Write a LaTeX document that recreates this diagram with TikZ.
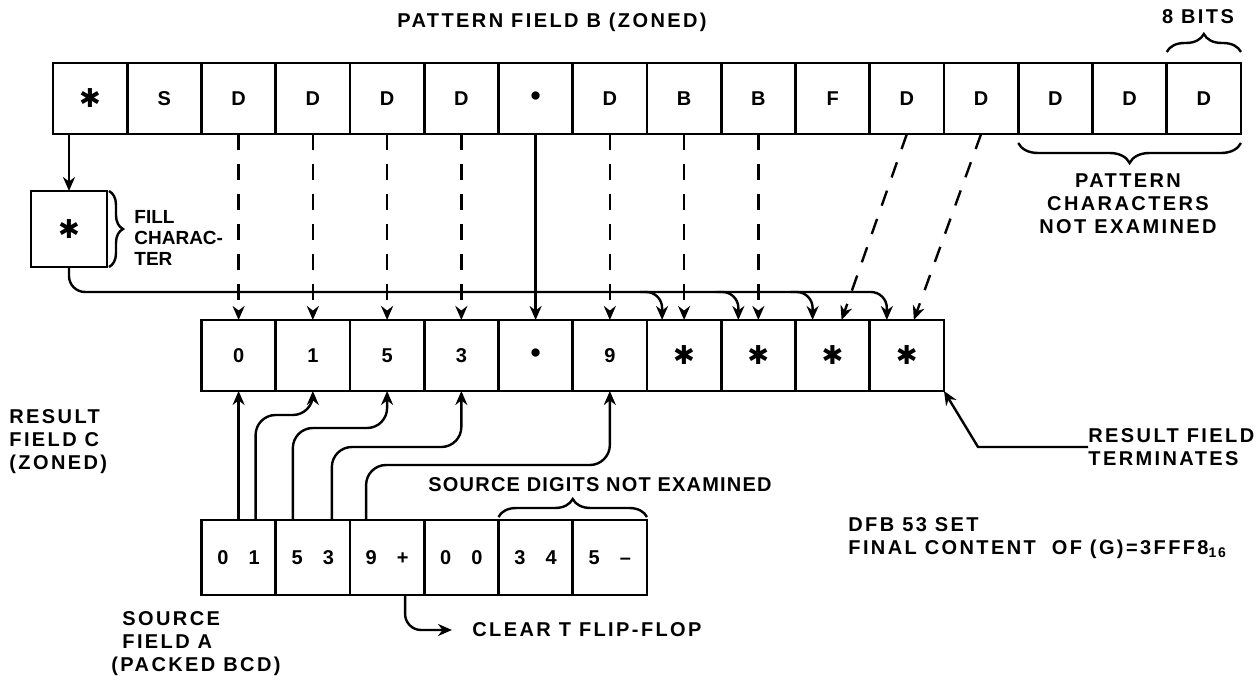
\documentclass[tikz,border=0pt]{standalone}
\usepackage{fontspec}
\setmainfont{Liberation Sans}[LetterSpace=12]
\newfontfamily\symfont{DejaVu Sans}
\newfontfamily\tightfont{Liberation Sans}
\usetikzlibrary{positioning,calc,arrows.meta,decorations.pathreplacing}

\newcommand{\filler}{{\symfont\fontsize{13}{13}\selectfont ✱}}

\begin{document}
\begin{tikzpicture}[x=0.5pt, y=-0.5pt, font=\fontsize{10}{11.5}\selectfont\bfseries, node distance=0pt,
	cell/.style={draw, line width=1.3pt, minimum width=37.125pt, minimum height=35.5pt, inner sep=0pt, outer sep=0pt},
	src/.style={cell, minimum height=37.5pt},
	lbl/.style={align=left, inner sep=0pt},
	wire/.style={line width=1.2pt},
	dashwire/.style={wire, dash pattern=on 8pt off 7pt},
	brc/.style={decorate, decoration={brace, amplitude=#1}, line width=1.2pt},
	>={Stealth[length=7pt, width=6pt]}]
	\useasboundingbox (0,0) rectangle (1258,683);
	% pattern field B
	\node[cell] (b1) at (90.1,98.5) {\filler};
	\node[cell, right=of b1] (b2) {S};
	\node[cell, right=of b2] (b3) {D};
	\node[cell, right=of b3] (b4) {D};
	\node[cell, right=of b4] (b5) {D};
	\node[cell, right=of b5] (b6) {D};
	\node[cell, right=of b6] (b7) {\Large\textbullet};
	\node[cell, right=of b7] (b8) {D};
	\node[cell, right=of b8] (b9) {B};
	\node[cell, right=of b9] (b10) {B};
	\node[cell, right=of b10] (b11) {F};
	\node[cell, right=of b11] (b12) {D};
	\node[cell, right=of b12] (b13) {D};
	\node[cell, right=of b13] (b14) {D};
	\node[cell, right=of b14] (b15) {D};
	\node[cell, right=of b15] (b16) {D};
	% result field C
	\node[cell, below=93pt of b3] (c1) {0};
	\node[cell, right=of c1] (c2) {1};
	\node[cell, right=of c2] (c3) {5};
	\node[cell, right=of c3] (c4) {3};
	\node[cell, right=of c4] (c5) {\Large\textbullet};
	\node[cell, right=of c5] (c6) {9};
	\node[cell, right=of c6] (c7) {\filler};
	\node[cell, right=of c7] (c8) {\filler};
	\node[cell, right=of c8] (c9) {\filler};
	\node[cell, right=of c9] (c10) {\filler};
	% source field A
	\node[src, below=64.5pt of c1] (a1) {0\quad 1};
	\node[src, right=of a1] (a2) {5\quad 3};
	\node[src, right=of a2] (a3) {9\quad +};
	\node[src, right=of a3] (a4) {0\quad 0};
	\node[src, right=of a4] (a5) {3\quad 4};
	\node[src, right=of a5] (a6) {5\quad --};
	% fill character
	\node[cell, minimum width=38pt, minimum height=38pt] (Fc) at (69,229) {\filler};
	\draw[brc=7pt] ([xshift=1pt]Fc.north east) -- ([xshift=1pt]Fc.south east);
	\node[lbl, anchor=west, font=\tightfont\fontsize{9.5}{10.5}\selectfont\bfseries] (fch) at (134,238) {FILL\\CHARAC-\\TER};
	% labels
	\node (ttl) at (552,22) {PATTERN FIELD B (ZONED)};
	\node (bits) at (1198,17) {8 BITS};
	\draw[brc=9pt] ([yshift=5.5pt]b16.north west) -- ([yshift=5.5pt]b16.north east);
	\draw[brc=10pt] ([yshift=-4.5pt]b16.south east) -- ([yshift=-4.5pt]b14.south west);
	\node[align=center, inner sep=0pt] (pcne) at (1128,204) {PATTERN\\CHARACTERS\\NOT EXAMINED};
	\node[lbl, anchor=west] (rfc) at (9,442) {RESULT\\FIELD C\\(ZONED)};
	\node[lbl, anchor=west] (sfa) at (111,644) {\hspace*{5.5pt}SOURCE\\\hspace*{5.5pt}FIELD A\\(PACKED BCD)};
	\node (sdne) at (600,485) {\addfontfeatures{LetterSpace=6}SOURCE DIGITS NOT EXAMINED};
	\draw[brc=9pt] ([yshift=1.5pt]a5.north west) -- ([yshift=1.5pt]a6.north east);
	\node[lbl, anchor=west] (clr) at (472,630) {CLEAR T FLIP-FLOP};
	\node[lbl, anchor=west] (rft) at (1088,447) {RESULT FIELD\\TERMINATES};
	\node[lbl, anchor=west] (dfb) at (848,538) {DFB 53 SET\\FINAL CONTENT\ \ OF (G)=3FFF8\textsubscript{16}};
	% pattern to result
	\draw[->, wire] (b1.south -| Fc.north) -- (Fc.north);
	\draw[->, dashwire] (b3.south) -- (c1.north);
	\draw[->, dashwire] (b4.south) -- (c2.north);
	\draw[->, dashwire] (b5.south) -- (c3.north);
	\draw[->, dashwire] (b6.south) -- (c4.north);
	\draw[->, wire] (b7.south) -- (c5.north);
	\draw[->, dashwire] (b8.south) -- (c6.north);
	\draw[->, dashwire] (b9.south) -- (c7.north);
	\draw[->, dashwire] (b10.south) -- (c8.north);
	\draw[->, dashwire] (b12.south) -- ([xshift=4.5pt]c9.north);
	\draw[->, dashwire] (b13.south) -- ([xshift=3.5pt]c10.north);
	% fill path
	\draw[->, wire, rounded corners=8pt] (Fc.south) |- ([shift={(-10pt,14pt)}]c10.north) -- ([xshift=-10pt]c10.north);
	\draw[->, wire, rounded corners=8pt] ([shift={(-22pt,14pt)}]c7.north) -| ([xshift=-11pt]c7.north);
	\draw[->, wire, rounded corners=8pt] ([shift={(-21pt,14pt)}]c8.north) -| ([xshift=-10pt]c8.north);
	\draw[->, wire, rounded corners=8pt] ([shift={(-21pt,14pt)}]c9.north) -| ([xshift=-10pt]c9.north);
	% source to result
	\draw[->, wire] (a1.north) -- (c1.south);
	\draw[->, wire, rounded corners=10pt] ([xshift=8.5pt]a1.north) -- ++(0,52.5pt) -| (c2.south);
	\draw[->, wire, rounded corners=10pt] ([xshift=-10pt]a2.north) -- ++(0,46pt) -| (c3.south);
	\draw[->, wire, rounded corners=10pt] ([xshift=9.5pt]a2.north) -- ++(0,36.5pt) -| (c4.south);
	\draw[->, wire, rounded corners=10pt] ([xshift=-10.5pt]a3.north) -- ++(0,27.5pt) -| (c6.south);
	\draw[->, wire, rounded corners=8pt] ([xshift=9pt]a3.south) |- ([xshift=-10pt]clr.west);
	\draw[->, wire] (rft.west) -- ++(-55pt,0) -- (c10.south east);
\end{tikzpicture}
\end{document}
